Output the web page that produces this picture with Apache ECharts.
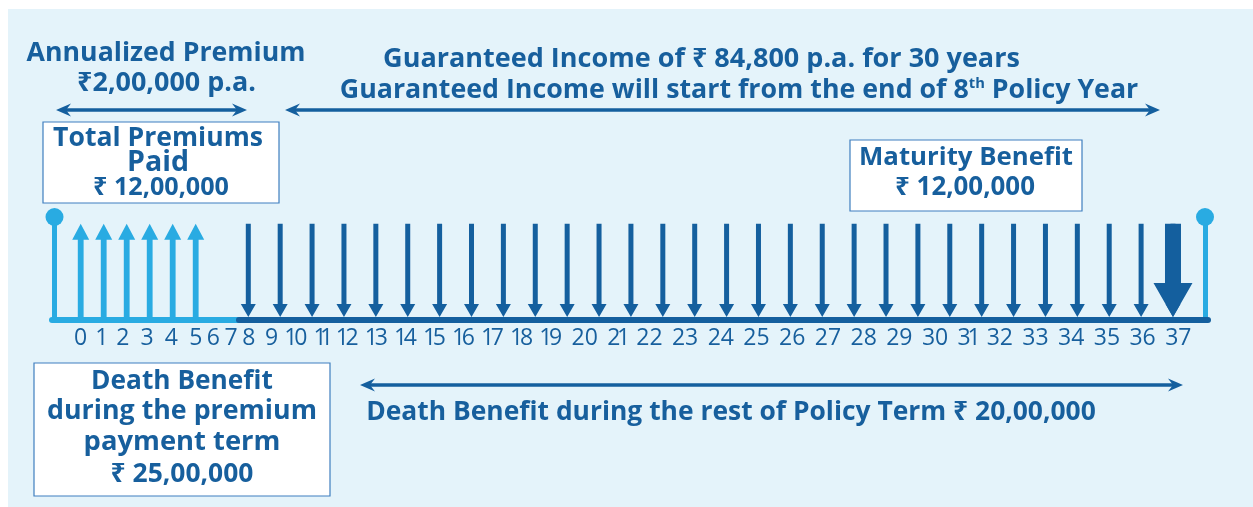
<!DOCTYPE html>
<html><head><meta charset="utf-8">
<script src="https://cdn.jsdelivr.net/npm/echarts@6/dist/echarts.min.js"></script>
<style>html,body{margin:0;padding:0;background:#fff}#c{width:1253px;height:507px}</style>
</head><body><div id="c"></div>
<script>
// ---------- data ----------
const premiumYears = [0, 1, 2, 3, 4, 5];
const incomeYears = [8, 9, 10, 11, 12, 13, 14, 15, 16, 17, 18, 19, 20, 21, 22, 23, 24, 25, 26, 27, 28, 29, 30, 31, 32, 33, 34, 35, 36, 37];
const maturityYears = [37];
const yearLabels = ['0','1','2','3','4','5','6','7','8','9','10','11','12','13','14','15','16','17','18','19','20','21','22','23','24','25','26','27','28','29','30','31','32','33','34','35','36','37'];
const premiumTitle = ['Annualized Premium', '₹2,00,000 p.a.'];
const totalPremiumText = ['Total Premiums', 'Paid', '₹ 12,00,000'];
const incomeLine1 = 'Guaranteed Income of ₹ 84,800 p.a. for 30 years';
const incomeLine2 = ['Guaranteed Income will start from the end of 8', 'th', ' Policy Year'];
const maturityText = ['Maturity Benefit', '₹ 12,00,000'];
const deathPPTText = ['Death Benefit', 'during the premium', 'payment term', '₹ 25,00,000'];
const deathRestText = 'Death Benefit during the rest of Policy Term ₹ 20,00,000';

// ---------- style ----------
const DARK = '#145f9e';
const TEXT = '#175f9d';
const LIGHT = '#29abe2';
const BG = '#e4f3fa';
const BORDER = '#3f7fbf';
const FAMILY = '"Open Sans", "Noto Sans", sans-serif';
const ARROW_TOP = 0.935;
const DOWN_TIP = 0.03;

const ctx = document.createElement('canvas').getContext('2d');
function measure(str, weight) { ctx.font = weight + ' 100px ' + FAMILY; return ctx.measureText(str).width; }
function fit(str, width, weight) { return 100 * width / measure(str, weight); }
function txt(str, cx, cy, width, weight) {
  weight = weight || '700';
  return { type: 'text', x: cx, y: cy, z: 100,
    style: { text: str, fill: TEXT, fontFamily: FAMILY, fontWeight: weight,
      fontSize: fit(str, width, weight), align: 'center', verticalAlign: 'middle' } };
}
function box(x1, y1, x2, y2) {
  return { type: 'rect', z: 50, shape: { x: x1, y: y1, width: x2 - x1, height: y2 - y1 },
    style: { fill: '#fff', stroke: BORDER, lineWidth: 1.2 } };
}
function head(xt, y, dir) {
  const L = 15, N = 10, H = 6.5;
  return [[xt, y], [xt + dir * L, y - H], [xt + dir * N, y], [xt + dir * L, y + H]];
}
function dbl(x1, x2, y) {
  return [
    { type: 'line', z: 60, shape: { x1: x1 + 8, y1: y, x2: x2 - 8, y2: y }, style: { stroke: DARK, lineWidth: 3.5 } },
    { type: 'polygon', z: 61, shape: { points: head(x1, y, 1) }, style: { fill: DARK } },
    { type: 'polygon', z: 61, shape: { points: head(x2, y, -1) }, style: { fill: DARK } }
  ];
}

// arrows drawn through the axes
function upArrow(params, api) {
  const b = api.coord([api.value(0), 0]);
  const t = api.coord([api.value(0), ARROW_TOP]);
  const x = b[0], yb = b[1], yt = t[1], hw = 8.5, hh = 16, sw = 2.9;
  return { type: 'polygon', shape: { points: [[x - sw, yb], [x - sw, yt + hh], [x - hw, yt + hh], [x, yt], [x + hw, yt + hh], [x + sw, yt + hh], [x + sw, yb]] }, style: { fill: LIGHT } };
}
function makeDown(sw, hw, hh) {
  return function (params, api) {
    const b = api.coord([api.value(0), DOWN_TIP]);
    const t = api.coord([api.value(0), ARROW_TOP]);
    const x = b[0], yb = b[1], yt = t[1];
    return { type: 'polygon', shape: { points: [[x - sw, yt], [x - sw, yb - hh], [x - hw, yb - hh], [x, yb], [x + hw, yb - hh], [x + sw, yb - hh], [x + sw, yt]] }, style: { fill: DARK } };
  };
}

const chart = echarts.init(document.getElementById('c'), null, { renderer: 'canvas' });

const hidden = { axisTick: { show: false }, axisLabel: { show: false }, splitLine: { show: false } };
const F2 = fit(incomeLine2[0] + incomeLine2[2], 798 - 0.5 * measure('th', '700') * 798 / measure(incomeLine2[0] + incomeLine2[2], '700'), '700');

// year label row: text flow with gap tokens, narrow "1" like the original face
const LABEL_SIZE = 23;
function gapStyle(i) { if (i < 5) return 'w'; if (i < 8) return 'n'; if (i === 8) return 'v'; return 'g'; }
function labelTokens(l) { return l.split('').map(c => c === '1' ? '{o|1}' : '{d|' + c + '}').join(''); }
const labelsRich = yearLabels.map((l, i) => labelTokens(l) + (i < yearLabels.length - 1 ? '{' + gapStyle(i) + '| }' : '')).join('');
const LBL = { fill: TEXT, fontFamily: FAMILY, fontWeight: '500', fontSize: LABEL_SIZE };

const graphics = [
  { type: 'rect', z: -100, silent: true, shape: { x: 8, y: 9, width: 1245, height: 498 }, style: { fill: BG } },
  txt(premiumTitle[0], 166, 53, 279),
  txt(premiumTitle[1], 166.5, 83, 179),
  ...dbl(56, 247, 110),
  ...dbl(285, 1160, 110),
  txt(incomeLine1, 701.5, 59, 637),
  { type: 'text', x: 739, y: 90, z: 100,
    style: { text: '{m|' + incomeLine2[0] + '}{s|' + incomeLine2[1] + '}{m|' + incomeLine2[2] + '}',
      align: 'center', verticalAlign: 'middle', fill: TEXT, fontFamily: FAMILY, fontWeight: '700', fontSize: F2,
      rich: { m: { fill: TEXT, fontFamily: FAMILY, fontWeight: '700', fontSize: F2 },
              s: { fill: TEXT, fontFamily: FAMILY, fontWeight: '700', fontSize: F2 * 0.55, verticalAlign: 'top' } } } },
  box(43, 122, 279, 203),
  txt(totalPremiumText[0], 158, 138, 210),
  txt(totalPremiumText[1], 158, 163, 62),
  txt(totalPremiumText[2], 161, 188, 136),
  box(850, 140, 1082, 211),
  txt(maturityText[0], 966, 158, 214),
  txt(maturityText[1], 965, 188, 140),
  box(34, 363, 330, 496),
  txt(deathPPTText[0], 182, 382, 182),
  txt(deathPPTText[1], 182, 411, 270),
  txt(deathPPTText[2], 182, 442, 197),
  txt(deathPPTText[3], 182, 474, 143),
  ...dbl(360, 1183, 385),
  txt(deathRestText, 731, 412, 730),
  { type: 'text', x: 74.1, y: 338, z: 100,
    style: { text: labelsRich, fill: TEXT, fontFamily: FAMILY, fontWeight: '500', fontSize: LABEL_SIZE, align: 'left', verticalAlign: 'middle',
      rich: {
        d: LBL,
        o: Object.assign({ width: 6.5, align: 'center' }, LBL),
        w: { width: 11.2, fontSize: LABEL_SIZE },
        n: { width: 4.5, fontSize: LABEL_SIZE },
        v: { width: 9.8, fontSize: LABEL_SIZE },
        g: { width: 9.4, fontSize: LABEL_SIZE }
      } } }
];

chart.setOption({
  backgroundColor: '#ffffff',
  animation: false,
  grid: [
    { left: 52, top: 217, width: 187, height: 103 },
    { left: 239, top: 217, width: 969, height: 103 }
  ],
  xAxis: [
    Object.assign({ gridIndex: 0, type: 'value', min: -1.248, max: 6.883,
      axisLine: { show: true, onZero: false, lineStyle: { color: LIGHT, width: 6 } } }, hidden),
    Object.assign({ gridIndex: 1, type: 'value', min: 7.7083, max: 38.098,
      axisLine: { show: true, onZero: false, lineStyle: { color: DARK, width: 6 } } }, hidden)
  ],
  yAxis: [
    Object.assign({ gridIndex: 0, type: 'value', min: 0, max: 1, position: 'left', offset: -2.5,
      axisLine: { show: true, onZero: false, symbol: ['none', 'circle'], symbolSize: [18, 18], lineStyle: { color: LIGHT, width: 5 } } }, hidden),
    Object.assign({ gridIndex: 1, type: 'value', min: 0, max: 1, position: 'right', offset: -3,
      axisLine: { show: true, onZero: false, symbol: ['none', 'circle'], symbolSize: [18, 18], lineStyle: { color: LIGHT, width: 5 } } }, hidden)
  ],
  series: [
    { type: 'custom', name: 'Premium', xAxisIndex: 0, yAxisIndex: 0, renderItem: upArrow, data: premiumYears.map(y => [y]) },
    { type: 'custom', name: 'Guaranteed Income', xAxisIndex: 1, yAxisIndex: 1, renderItem: makeDown(2.5, 7.5, 13), data: incomeYears.map(y => [y]) },
    { type: 'custom', name: 'Maturity Benefit', xAxisIndex: 1, yAxisIndex: 1, z: 3, renderItem: makeDown(8, 19.5, 34), data: maturityYears.map(y => [y]) }
  ],
  graphic: graphics
});
</script></body></html>
